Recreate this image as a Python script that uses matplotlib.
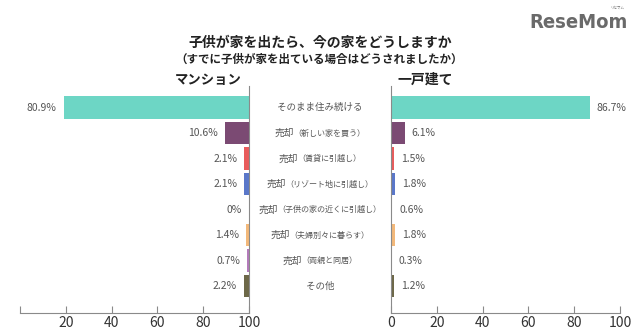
import matplotlib
matplotlib.use("Agg")
import matplotlib.pyplot as plt

plt.rcParams['font.family'] = ['Noto Sans CJK JP', 'DejaVu Sans']

categories = ["そのまま住み続ける", "売却（新しい家を買う）", "売却（賃貸に引越し）",
              "売却（リゾート地に引越し）", "売却（子供の家の近くに引越し）",
              "売却（夫婦別々に暮らす）", "売却（両親と同居）", "その他"]
mansion = [80.9, 10.6, 2.1, 2.1, 0.0, 1.4, 0.7, 2.2]
house = [86.7, 6.1, 1.5, 1.8, 0.6, 1.8, 0.3, 1.2]
mansion_labels = ["80.9%", "10.6%", "2.1%", "2.1%", "0%", "1.4%", "0.7%", "2.2%"]
house_labels = ["86.7%", "6.1%", "1.5%", "1.8%", "0.6%", "1.8%", "0.3%", "1.2%"]
colors = ["#6dd6c5", "#7b4a73", "#e85c5c", "#5a77c9", "#7fd97f", "#f2b87a", "#b47bbb", "#6d6848"]

fig = plt.figure(figsize=(6.4, 3.31), dpi=100)
W, H = 640, 331

def ax_rect(x0, x1, ytop, ybot):
    return [x0 / W, 1 - ybot / H, (x1 - x0) / W, (ybot - ytop) / H]

axL = fig.add_axes(ax_rect(20, 249, 86, 313))
axR = fig.add_axes(ax_rect(391, 620, 86, 313))

ypos = list(range(len(categories)))
gray = "#8a8a8a"
for ax in (axL, axR):
    ax.set_ylim(len(categories) - 1 + 1.06, -0.85)
    ax.set_xlim(0, 100)
    for s in ("top", "left", "right", "bottom"):
        ax.spines[s].set_visible(False)
    ax.spines["bottom"].set_visible(True)
    ax.spines["bottom"].set_color(gray)
    ax.set_yticks([])
    ax.tick_params(axis="x", direction="in", length=5, color=gray, labelsize=10,
                   labelcolor="#333333", pad=2)
    ax.set_xticks([0, 20, 40, 60, 80, 100])

axL.spines["right"].set_visible(True)
axL.spines["right"].set_color(gray)
axR.spines["left"].set_visible(True)
axR.spines["left"].set_color(gray)
axL.set_xticklabels(["", "20", "40", "60", "80", "100"])
axR.set_xticklabels(["0", "20", "40", "60", "80", "100"])

h = 0.88
lefts = [100 - v for v in mansion]
axL.barh(ypos, mansion, left=lefts, height=h, color=colors)
axR.barh(ypos, house, height=h, color=colors)

for y, v, lab in zip(ypos, mansion, mansion_labels):
    axL.text(100 - v - 3, y, lab, ha="right", va="center", fontsize=7.5, color="#555555")
for y, v, lab in zip(ypos, house, house_labels):
    axR.text(v + 3, y, lab, ha="left", va="center", fontsize=7.5, color="#555555")

# center category labels: "売却" larger, parenthetical smaller
renderer = fig.canvas.get_renderer()
for y, cat in zip(ypos, categories):
    yfig = 1 - (107.7 + 25.5 * y) / H
    if "（" in cat:
        head, rest = cat.split("（", 1)
        rest = "（" + rest
        t1 = fig.text(0, yfig, head, ha="left", va="center", fontsize=7, color="#555555")
        t2 = fig.text(0, yfig, rest, ha="left", va="center", fontsize=5.8, color="#555555")
        w1 = t1.get_window_extent(renderer).width
        w2 = t2.get_window_extent(renderer).width
        x0 = 320 - (w1 + w2) / 2
        t1.set_x(x0 / W)
        t2.set_x((x0 + w1) / W)
    else:
        fig.text(320 / W, yfig, cat, ha="center", va="center", fontsize=6.8, color="#555555")

fig.text(320 / W, 1 - 43 / H, "子供が家を出たら、今の家をどうしますか", ha="center", va="center",
         fontsize=10, fontweight="bold", color="#222222")
fig.text(319 / W, 1 - 59 / H, "（すでに子供が家を出ている場合はどうされましたか）", ha="center",
         va="center", fontsize=8.3, fontweight="bold", color="#222222")
fig.text(242 / W, 1 - 80 / H, "マンション", ha="right", va="center", fontsize=9.6,
         fontweight="bold", color="#222222")
fig.text(397 / W, 1 - 80 / H, "一戸建て", ha="left", va="center", fontsize=10,
         fontweight="bold", color="#222222")
fig.text(628 / W, 1 - 23 / H, "ReseMom", ha="right", va="center", fontsize=14.5,
         fontweight="bold", color="#6a6a6a", family=["DejaVu Sans"], fontstretch="condensed")
fig.text(617 / W, 1 - 8 / H, "リセマム", ha="center", va="center", fontsize=2.5,
         color="#6a6a6a")

fig.savefig("out.png", dpi=100)
